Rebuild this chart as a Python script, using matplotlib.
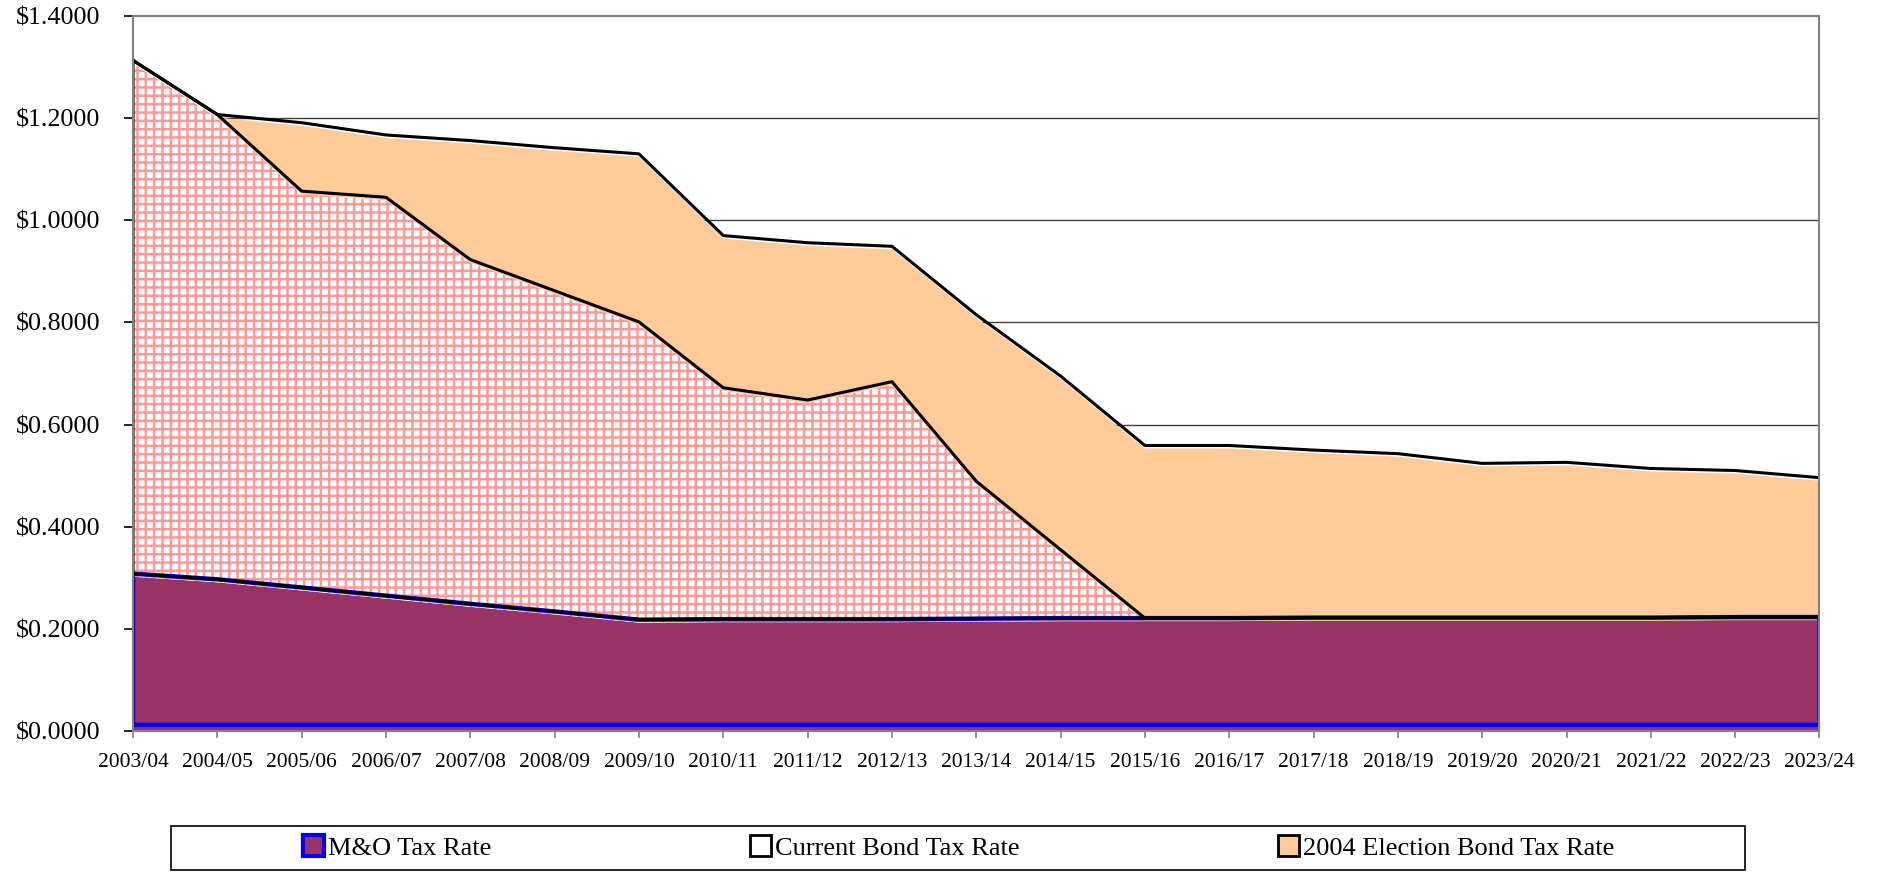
import numpy as np
import matplotlib
matplotlib.use('Agg')
import matplotlib.pyplot as plt
import matplotlib.transforms as mtransforms
from matplotlib.patches import Patch, Rectangle

years = ['2003/04', '2004/05', '2005/06', '2006/07', '2007/08', '2008/09', '2009/10',
         '2010/11', '2011/12', '2012/13', '2013/14', '2014/15', '2015/16', '2016/17',
         '2017/18', '2018/19', '2019/20', '2020/21', '2021/22', '2022/23', '2023/24']
mo_rate = [0.308, 0.297, 0.281, 0.265, 0.249, 0.234, 0.218, 0.219, 0.219, 0.219, 0.220,
           0.221, 0.221, 0.221, 0.222, 0.222, 0.222, 0.222, 0.222, 0.223, 0.223]
current_bond = [1.005, 0.910, 0.776, 0.780, 0.674, 0.628, 0.583, 0.453, 0.429, 0.465, 0.269,
                0.134, 0.0, 0.0, 0.0, 0.0, 0.0, 0.0, 0.0, 0.0, 0.0]
election_bond = [0.0, 0.0, 0.134, 0.122, 0.233, 0.280, 0.329, 0.298, 0.308, 0.265, 0.326,
                 0.340, 0.338, 0.338, 0.328, 0.321, 0.302, 0.304, 0.292, 0.287, 0.273]
y_ticks = [0.0, 0.2, 0.4, 0.6, 0.8, 1.0, 1.2, 1.4]

purple = '#993366'
peach = '#FFCC99'
pink = '#FF9999'

plt.rcParams['font.family'] = ['Liberation Serif', 'DejaVu Serif']
plt.rcParams['hatch.linewidth'] = 1.8

x = np.arange(len(years))
mo = np.array(mo_rate)
bond_top = mo + np.array(current_bond)
total = bond_top + np.array(election_bond)

fig = plt.figure(figsize=(18.77, 8.72), dpi=100)
ax = fig.add_axes([0.07086, 0.1617, 0.8985, 0.8200])

# fills are shifted a few pixels down, like the excel rendering
shift = mtransforms.offset_copy(ax.transData, fig=fig, x=0, y=-3, units='dots')

for v in y_ticks[1:-1]:
    ax.axhline(v, color='#404040', lw=1.0, zorder=0.5)

ax.fill_between(x, 0, mo, facecolor=purple, lw=0, transform=shift, zorder=1)
ax.fill_between(x, mo, bond_top, facecolor='white', edgecolor=pink, hatch='++', lw=0,
                transform=shift, zorder=1)
ax.fill_between(x, bond_top, total, facecolor=peach, lw=0, transform=shift, zorder=1)

# outlines
base = 0.012
ax.plot(np.r_[x[0], x, x[-1], x[0], x[0]], np.r_[base, mo, base, base, base],
        color='#0000FF', lw=3.2, zorder=3, solid_joinstyle='miter')
ax.plot(np.r_[x, x[::-1], x[0]], np.r_[bond_top, mo[::-1], bond_top[0]],
        color='black', lw=2.2, zorder=4)
ax.plot(np.r_[x, x[-1]], np.r_[total, bond_top[-1]], color='black', lw=2.2, zorder=4)

ax.set_xlim(0, len(years) - 1)
ax.set_ylim(0, 1.4)
ax.set_xticks(x)
ax.set_xticklabels(years, fontsize=15.5)
ax.set_yticks(y_ticks)
ax.set_yticklabels(['${:.4f}'.format(v) for v in y_ticks], fontsize=18.7)
ax.tick_params(axis='y', direction='out', length=6.5, width=1.2, color='black', pad=17)
ax.tick_params(axis='x', direction='out', length=5, width=1.2, color='#808080', pad=11)
for s in ax.spines.values():
    s.set_color('#808080')
    s.set_linewidth(1.5)
    s.set_zorder(5)

handles = [Patch(facecolor=purple, edgecolor='#0000FF', lw=3),
           Patch(facecolor='white', edgecolor='black', lw=2),
           Patch(facecolor=peach, edgecolor='black', lw=2)]
labels = ['M&O Tax Rate', 'Current Bond Tax Rate', '2004 Election Bond Tax Rate']
fig.legend(handles, labels, loc='center', bbox_to_anchor=(0.5107, 0.028), ncol=3,
           frameon=False, fontsize=19, handlelength=0.8, handleheight=0.8,
           handletextpad=0.15, columnspacing=9.8, borderpad=0)
fig.patches.append(Rectangle((171 / 1877, 2 / 872), (1745 - 171) / 1877, 44 / 872,
                             transform=fig.transFigure, fill=False, edgecolor='black', lw=1.2))

fig.savefig('out.png', dpi=100)
